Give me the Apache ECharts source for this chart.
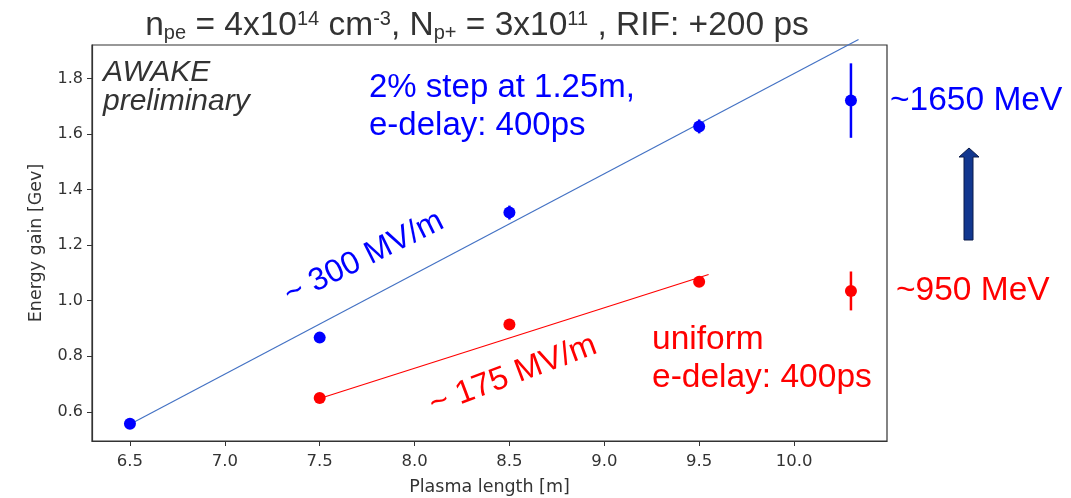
<!DOCTYPE html>
<html lang="en">
<head>
    <meta charset="UTF-8">
    <title>AWAKE energy gain</title>
    <script src="https://cdn.jsdelivr.net/npm/echarts@6/dist/echarts.min.js"></script>
    <style>
        html, body { margin: 0; padding: 0; background: #fff; }
        #main { width: 1071px; height: 498px; }
    </style>
</head>
<body>
    <div id="main"></div>
    <script>
    // 数据: 等离子体长度 / 能量增益
    var xTicks = [6.5, 7.0, 7.5, 8.0, 8.5, 9.0, 9.5, 10.0];
    var yTicks = [0.6, 0.8, 1.0, 1.2, 1.4, 1.6, 1.8];

    var stepLength = [6.5, 7.5, 8.5, 9.5, 10.3];
    var stepGain = [0.557, 0.867, 1.317, 1.627, 1.72];
    var stepErr = [0, 0, 0.025, 0.025, 0.134];

    var uniformLength = [7.5, 8.5, 9.5, 10.3];
    var uniformGain = [0.65, 0.914, 1.068, 1.035];
    var uniformErr = [0, 0, 0.015, 0.07];

    // 拟合直线的两个端点
    var stepFitX = [6.5, 10.34];
    var stepFitY = [0.555, 1.94];
    var uniformFitX = [7.5, 9.55];
    var uniformFitY = [0.648, 1.094];

    var BLUE = '#0000ff';
    var RED = '#ff0000';
    var FIT_BLUE = '#4472c4';

    function pairs(xs, ys, es) {
        return xs.map(function(x, i) {
            return es ? [x, ys[i], es[i]] : [x, ys[i]];
        });
    }

    function errorBars(color) {
        return function(params, api) {
            var x = api.value(0), y = api.value(1), e = api.value(2);
            if (!e) return null;
            var top = api.coord([x, y + e]);
            var bot = api.coord([x, y - e]);
            return {
                type: 'line',
                shape: { x1: top[0], y1: top[1], x2: bot[0], y2: bot[1] },
                style: { stroke: color, lineWidth: 2.5 }
            };
        };
    }

    var myChart = echarts.init(document.getElementById('main'));

    var noteFont = 'Liberation Sans';

    var option = {
        backgroundColor: '#fff',
        animation: false,
        title: {
            left: 472,
            top: 0,
            textAlign: 'center',
            text: 'n{sub|pe} = 4x10{sup|14} cm{sup|-3}, N{sub|p+} = 3x10{sup|11} , RIF: +200 ps',
            textStyle: {
                color: '#333',
                fontSize: 33.5,
                fontWeight: 'normal',
                fontFamily: noteFont,
                lineHeight: 42,
                rich: {
                    sub: { fontSize: 20, color: '#333', fontFamily: noteFont, padding: [14, 0, 0, 0] },
                    sup: { fontSize: 20, color: '#333', fontFamily: noteFont, padding: [0, 0, 14, 0] }
                }
            }
        },
        grid: {
            left: 92, top: 45, right: 184, bottom: 57,
            outerBoundsMode: 'none',
            containLabel: false,
            show: true, borderColor: '#333', borderWidth: 1.2
        },
        xAxis: {
            type: 'value',
            min: 6.3,
            max: 10.49,
            name: 'Plasma length [m]',
            nameLocation: 'middle',
            nameGap: 37,
            nameTextStyle: { color: '#333', fontSize: 17.5, fontFamily: 'DejaVu Sans' },
            axisLine: { show: true, onZero: false, lineStyle: { color: '#333', width: 1.2 } },
            axisTick: { show: true, length: 5, lineStyle: { color: '#333' }, customValues: xTicks },
            axisLabel: {
                margin: 12, customValues: xTicks, color: '#333', fontSize: 16.5, fontFamily: 'DejaVu Sans',
                formatter: function(v) { return v.toFixed(1); }
            },
            splitLine: { show: false }
        },
        yAxis: {
            type: 'value',
            min: 0.495,
            max: 1.92,
            name: 'Energy gain [Gev]',
            nameLocation: 'middle',
            nameGap: 47,
            nameTextStyle: { color: '#333', fontSize: 17.5, fontFamily: 'DejaVu Sans' },
            axisLine: { show: true, onZero: false, lineStyle: { color: '#333', width: 1.2 } },
            axisTick: { show: true, length: 5, lineStyle: { color: '#333' }, customValues: yTicks },
            axisLabel: {
                margin: 9, customValues: yTicks, color: '#333', fontSize: 16, fontFamily: 'DejaVu Sans',
                formatter: function(v) { return v.toFixed(1); }
            },
            splitLine: { show: false }
        },
        series: [
            {
                type: 'line',
                data: pairs(stepFitX, stepFitY),
                showSymbol: false,
                clip: false,
                lineStyle: { color: FIT_BLUE, width: 1.2 },
                z: 2
            },
            {
                type: 'line',
                data: pairs(uniformFitX, uniformFitY),
                showSymbol: false,
                lineStyle: { color: RED, width: 1.2 },
                z: 2
            },
            {
                type: 'custom',
                renderItem: errorBars(BLUE),
                data: pairs(stepLength, stepGain, stepErr),
                z: 3
            },
            {
                type: 'custom',
                renderItem: errorBars(RED),
                data: pairs(uniformLength, uniformGain, uniformErr),
                z: 3
            },
            {
                type: 'scatter',
                data: pairs(stepLength, stepGain),
                symbolSize: 12,
                itemStyle: { color: BLUE, opacity: 1 },
                z: 4
            },
            {
                type: 'scatter',
                data: pairs(uniformLength, uniformGain),
                symbolSize: 12,
                itemStyle: { color: RED, opacity: 1 },
                z: 4
            }
        ],
        graphic: [
            {
                type: 'text', left: 103, top: 58,
                style: { text: 'AWAKE\npreliminary', fill: '#333', font: 'italic 30px ' + noteFont, lineHeight: 29 }
            },
            {
                type: 'text', left: 369, top: 69,
                style: { text: '2% step at 1.25m,\ne-delay: 400ps', fill: BLUE, font: '33px ' + noteFont, lineHeight: 38 }
            },
            {
                type: 'text', x: 364, y: 258, rotation: 26.5 * Math.PI / 180,
                style: { text: '~ 300 MV/m', fill: BLUE, font: '32px ' + noteFont, align: 'center', verticalAlign: 'middle' }
            },
            {
                type: 'text', x: 513, y: 375, rotation: 20.5 * Math.PI / 180,
                style: { text: '~ 175 MV/m', fill: RED, font: '32.5px ' + noteFont, align: 'center', verticalAlign: 'middle' }
            },
            {
                type: 'text', left: 652, top: 321,
                style: { text: 'uniform\ne-delay: 400ps', fill: RED, font: '33.5px ' + noteFont, lineHeight: 38 }
            },
            {
                type: 'text', left: 890, top: 84,
                style: { text: '~1650 MeV', fill: BLUE, font: '33.5px ' + noteFont }
            },
            {
                type: 'text', left: 896, top: 274,
                style: { text: '~950 MeV', fill: RED, font: '33.5px ' + noteFont }
            },
            {
                type: 'polygon',
                shape: {
                    points: [[969, 148], [979, 157], [973, 157], [973, 240], [964, 240], [964, 157], [959, 157]]
                },
                style: { fill: '#12378f', stroke: '#0b1a48', lineWidth: 1 }
            }
        ]
    };

    myChart.setOption(option);
    </script>
</body>
</html>
